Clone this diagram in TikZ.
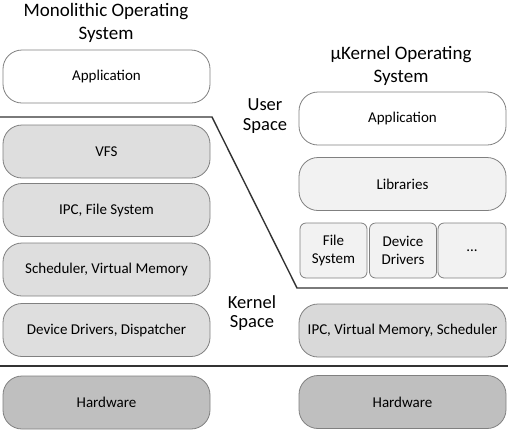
\documentclass[tikz,border=0pt]{standalone}
\usepackage{fontspec}
\setmainfont{Carlito}
\begin{document}
\begin{tikzpicture}[x=1pt,y=-1pt,
  layer/.style={draw=black!50, line width=0.8pt, rounded corners=19pt, minimum width=207pt, minimum height=53pt, inner sep=0pt, font=\fontsize{15}{18}\selectfont, align=center},
  small/.style={draw=black!50, line width=0.8pt, rounded corners=6pt, minimum width=67pt, minimum height=55pt, inner sep=0pt, font=\fontsize{15}{18}\selectfont, align=center, fill=black!5},
  title/.style={font=\fontsize{19}{23}\selectfont, align=center},
  space/.style={font=\fontsize{18.5}{19.5}\selectfont, align=center},
  sep/.style={draw=black!80, line width=1.4pt}]
\useasboundingbox (0,0) rectangle (508,432);
% titles
\node[title] (t1) at (106,23) {Monolithic Operating\\System};
\node[title] (t2) at (401,66) {µKernel Operating\\System};
\node[space] (us) at (265,116) {User\\Space};
\node[space] (ks) at (252,313) {Kernel\\Space};
% left column
\node[layer, fill=white] (lapp) at (106.5,76.5) {Application};
\node[layer, fill=black!13] (vfs) at (106.5,151.5) {VFS};
\node[layer, fill=black!13] (ipc) at (106.5,210) {IPC, File System};
\node[layer, fill=black!13] (sched) at (106.5,269.5) {Scheduler, Virtual Memory};
\node[layer, fill=black!13] (dd) at (106.5,330) {Device Drivers, Dispatcher};
\node[layer, fill=black!25] (lhw) at (106.5,402.5) {Hardware};
% right column
\node[layer, fill=white] (rapp) at (402.5,118.5) {Application};
\node[layer, fill=black!5] (lib) at (402.5,184) {Libraries};
\node[small] (fs) at (333.5,250.5) {File\\System};
\node[small] (drv) at (403,250.5) {Device\\Drivers};
\node[small, minimum width=68pt] (dots) at (472,250.5) {...};
\node[layer, fill=black!15] (ripc) at (402.5,330.5) {IPC, Virtual Memory, Scheduler};
\node[layer, fill=black!25] (rhw) at (402.5,402) {Hardware};
% separators
\coordinate (a1) at (0,117);
\coordinate (a2) at (212,117);
\coordinate (a3) at (297,288);
\coordinate (a4) at (508,288);
\coordinate (b1) at (0,366);
\coordinate (b2) at (508,366);
\draw[sep] (a1) -- (a2) -- (a3) -- (a4);
\draw[sep] (b1) -- (b2);
\end{tikzpicture}
\end{document}
